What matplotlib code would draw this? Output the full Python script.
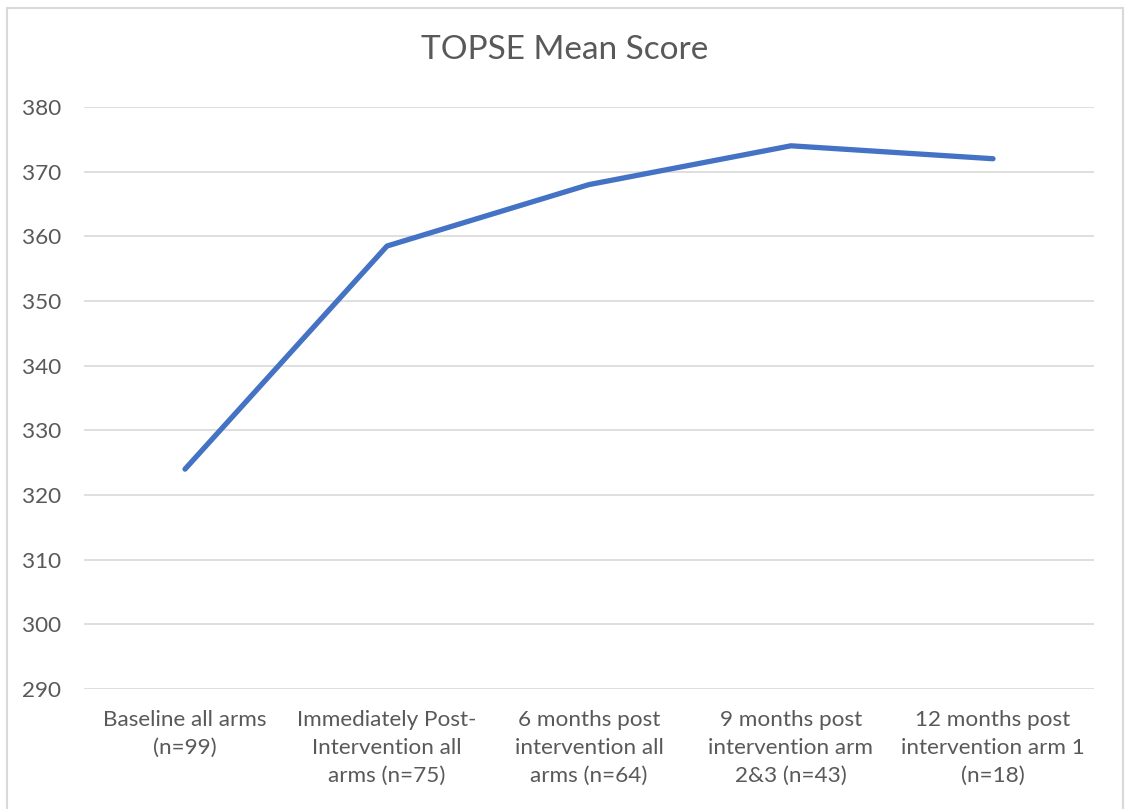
import matplotlib.pyplot as plt
from matplotlib.patches import Rectangle

plt.rcParams['font.family'] = ['Lato', 'DejaVu Sans']

# データ
categories = ['Baseline all arms\n(n=99)',
              'Immediately Post-\nIntervention all\narms (n=75)',
              '6 months post\nintervention all\narms (n=64)',
              '9 months post\nintervention arm\n2&3 (n=43)',
              '12 months post\nintervention arm 1\n(n=18)']
scores = [324, 358.5, 368, 374, 372]
yticks = [290, 300, 310, 320, 330, 340, 350, 360, 370, 380]

fig = plt.figure(figsize=(11.3, 8.09), dpi=100)
ax = fig.add_axes([84/1130, 1-689/809, (1094-84)/1130, (689-107)/809])

x = range(len(categories))
ax.plot(x, scores, color='#4472C4', linewidth=3.8, solid_capstyle='round')

ax.set_xlim(-0.5, len(categories)-0.5)
ax.set_ylim(290, 380)
ax.set_yticks(yticks)
ax.set_xticks(list(x))
ax.set_xticklabels(categories, linespacing=1.5)
ax.tick_params(axis='both', length=0, labelsize=16.2, colors='#595959')
ax.tick_params(axis='y', pad=16.5)
ax.tick_params(axis='x', pad=15)
ax.grid(axis='y', color='#d9d9d9', linewidth=1.2)
ax.set_axisbelow(True)
for s in ax.spines.values():
    s.set_visible(False)

fig.text(0.5, 1-50/809, 'TOPSE Mean Score', ha='center', va='center',
         fontsize=24, color='#595959')

# 外枠
fig.patches.append(Rectangle((7/1130, -0.05), (1123-7)/1130, 1.05-8/809,
                             transform=fig.transFigure, fill=False,
                             edgecolor='#d9d9d9', linewidth=1.5))

fig.savefig('out.png', dpi=100)
